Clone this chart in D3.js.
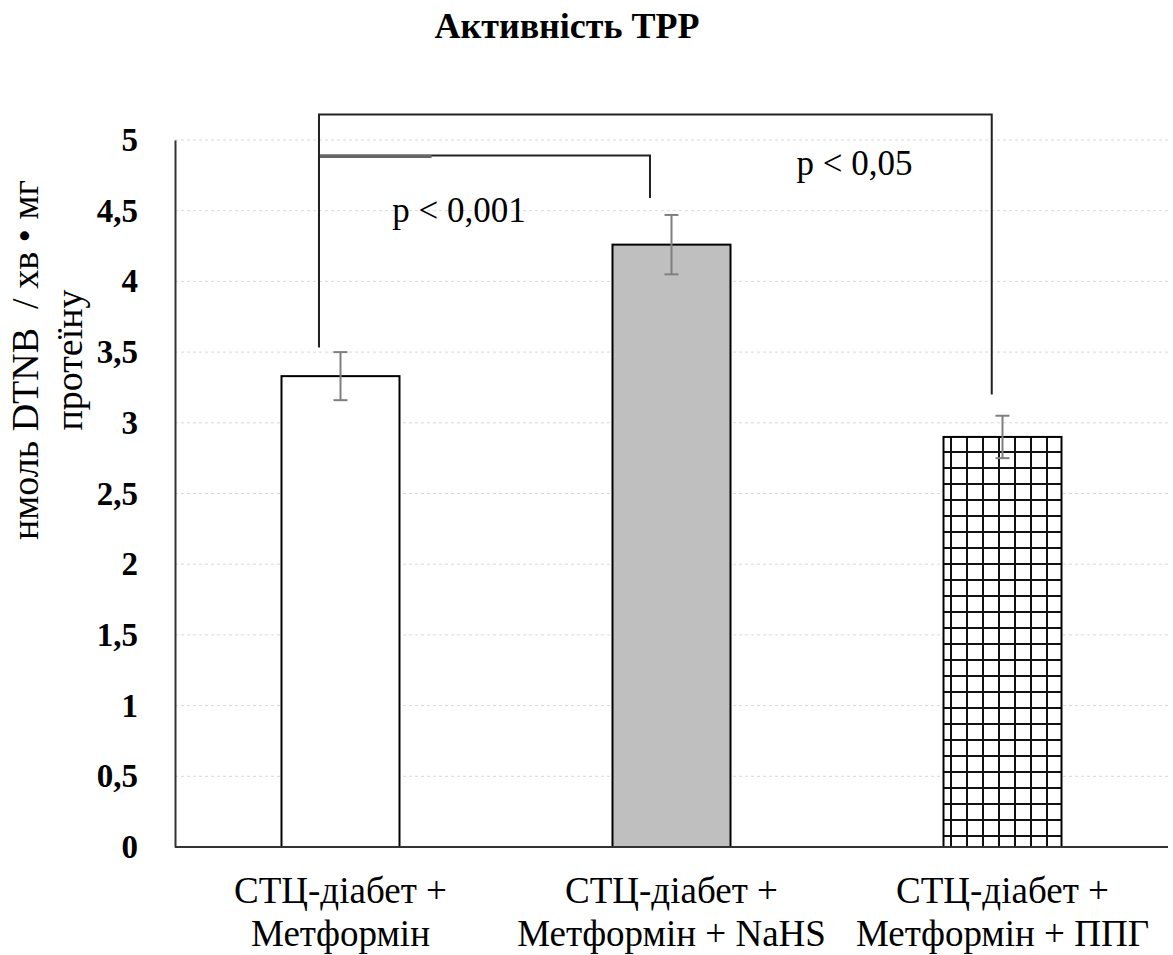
<!DOCTYPE html>
<html>
<head>
<meta charset="utf-8">
<script src="https://cdn.jsdelivr.net/npm/d3@7"></script>
<style>
  html, body { margin: 0; padding: 0; background: #fff; }
  svg text { font-family: "Liberation Serif", "Times New Roman", serif; fill: #000; }
</style>
</head>
<body>
<svg id="chart" width="1173" height="955"></svg>
<script>
// Group labels (each split into two lines) and measured means with error
const categories = [
  ["СТЦ-діабет +", "Метформін"],
  ["СТЦ-діабет +", "Метформін + NaHS"],
  ["СТЦ-діабет +", "Метформін + ППГ"]
];
const values = [3.33, 4.26, 2.90];
const errors = [0.17, 0.21, 0.15];
const yTicks = [0, 0.5, 1, 1.5, 2, 2.5, 3, 3.5, 4, 4.5, 5];
const yTickLabels = ["0", "0,5", "1", "1,5", "2", "2,5", "3", "3,5", "4", "4,5", "5"];

// Significance brackets between groups
const compFrom = [0, 0];
const compTo = [1, 2];
const compLevel = [4.89, 5.18];
const compLabel = ["p < 0,001", "p < 0,05"];
const compLabelLevel = [4.42, 4.75];

const titleText = "Активність ТРР";
const yLabelLines = ["нмоль DTNB  / хв • мг", "протеїну"];

const svg = d3.select("#chart");
const plotL = 175, plotR = 1168, plotT = 140, plotB = 847;

const x = d3.scaleBand()
  .domain(d3.range(categories.length))
  .range([plotL, plotR])
  .paddingInner(0.6435)
  .paddingOuter(0.6435 / 2);
const y = d3.scaleLinear().domain([0, 5]).range([plotB, plotT]);
const cx = i => x(i) + x.bandwidth() / 2;

// Grid-check fill for the third bar
const defs = svg.append("defs");
const pat = defs.append("pattern")
  .attr("id", "grid")
  .attr("patternUnits", "userSpaceOnUse")
  .attr("width", 16).attr("height", 16);
pat.append("rect").attr("width", 16).attr("height", 16).attr("fill", "#fff");
pat.append("rect").attr("x", 6).attr("y", 0).attr("width", 2).attr("height", 16).attr("fill", "#111");
pat.append("rect").attr("x", 0).attr("y", 3).attr("width", 16).attr("height", 2).attr("fill", "#111");
const fills = ["#ffffff", "#bfbfbf", "url(#grid)"];

// Horizontal dashed gridlines
svg.append("g")
  .selectAll("line")
  .data(yTicks.filter(t => t > 0))
  .join("line")
  .attr("x1", plotL).attr("x2", plotR)
  .attr("y1", d => y(d)).attr("y2", d => y(d))
  .attr("stroke", "#d9d9d9")
  .attr("stroke-width", 1)
  .attr("stroke-dasharray", "3,3");

// Y axis with comma decimal labels
const yAxis = d3.axisLeft(y)
  .tickValues(yTicks)
  .tickFormat((d, i) => yTickLabels[i])
  .tickSize(0)
  .tickPadding(37);
const gy = svg.append("g").attr("transform", `translate(${plotL},0)`).call(yAxis);
gy.attr("font-family", null);
gy.select(".domain").attr("stroke", "#333").attr("stroke-width", 2);
gy.selectAll("text")
  .style("font-family", '"Liberation Serif", "Times New Roman", serif')
  .style("font-size", "33px")
  .style("font-weight", "bold")
  .attr("fill", "#000");

// Bars
svg.append("g")
  .selectAll("rect")
  .data(values)
  .join("rect")
  .attr("x", (d, i) => x(i))
  .attr("y", d => y(d))
  .attr("width", x.bandwidth())
  .attr("height", d => y(0) - y(d))
  .attr("fill", (d, i) => fills[i])
  .attr("stroke", "#000")
  .attr("stroke-width", 2);

// Error bars
const eb = svg.append("g").attr("stroke", "#7f7f7f").attr("stroke-width", 2);
values.forEach((v, i) => {
  const c = cx(i);
  eb.append("line").attr("x1", c).attr("x2", c).attr("y1", y(v + errors[i])).attr("y2", y(v - errors[i]));
  eb.append("line").attr("x1", c - 7).attr("x2", c + 7).attr("y1", y(v + errors[i])).attr("y2", y(v + errors[i]));
  eb.append("line").attr("x1", c - 7).attr("x2", c + 7).attr("y1", y(v - errors[i])).attr("y2", y(v - errors[i]));
});

// Baseline (category axis)
svg.append("line")
  .attr("x1", plotL).attr("x2", plotR)
  .attr("y1", y(0)).attr("y2", y(0))
  .attr("stroke", "#333").attr("stroke-width", 2);

// Category labels, two lines each
const xl = svg.append("g");
categories.forEach((lines, i) => {
  const t = xl.append("text")
    .attr("text-anchor", "middle")
    .style("font-size", "37px");
  lines.forEach((ln, k) => {
    t.append("tspan").attr("x", cx(i)).attr("y", 903 + k * 43).text(ln);
  });
});

// Significance brackets
const br = svg.append("g").attr("fill", "none").attr("stroke", "#222").attr("stroke-width", 2);
const offs = x.step() * 0.065;
compFrom.forEach((a, k) => {
  const b = compTo[k];
  const xa = cx(a) - offs;
  const xb = cx(b) - (k === 0 ? offs : offs / 2);
  const ya = y(values[a] + errors[a] + 0.035);
  const yb = y(values[b] + errors[b] + (k === 0 ? 0.12 : 0.15));
  const yt = y(compLevel[k]);
  br.append("path").attr("d", `M${xa},${ya}V${yt}H${xb}V${yb}`);
  if (k === 0) {
    br.append("line")
      .attr("x1", xa).attr("x2", xa + (xb - xa) * 0.34)
      .attr("y1", yt + 1).attr("y2", yt + 1)
      .attr("stroke", "#666").attr("stroke-width", 3);
  }
});

// Significance labels
const pl = svg.append("g").style("font-size", "35px");
pl.append("text").attr("x", (cx(0) + cx(1)) / 2 - 47).attr("y", y(compLabelLevel[0])).attr("text-anchor", "middle").text(compLabel[0]);
pl.append("text").attr("x", cx(2) - 148).attr("y", y(compLabelLevel[1])).attr("text-anchor", "middle").text(compLabel[1]);

// Title
svg.append("text")
  .attr("x", 567).attr("y", 38)
  .attr("text-anchor", "middle")
  .style("font-size", "36px")
  .style("font-weight", "bold")
  .text(titleText);

// Y axis title, rotated, two lines
const yl = svg.append("text")
  .attr("transform", "translate(0,360) rotate(-90)")
  .attr("text-anchor", "middle")
  .style("font-size", "38px")
  .style("white-space", "pre");
yLabelLines.forEach((ln, k) => {
  yl.append("tspan").attr("x", 0).attr("y", 38 + k * 44).text(ln);
});
</script>
</body>
</html>
